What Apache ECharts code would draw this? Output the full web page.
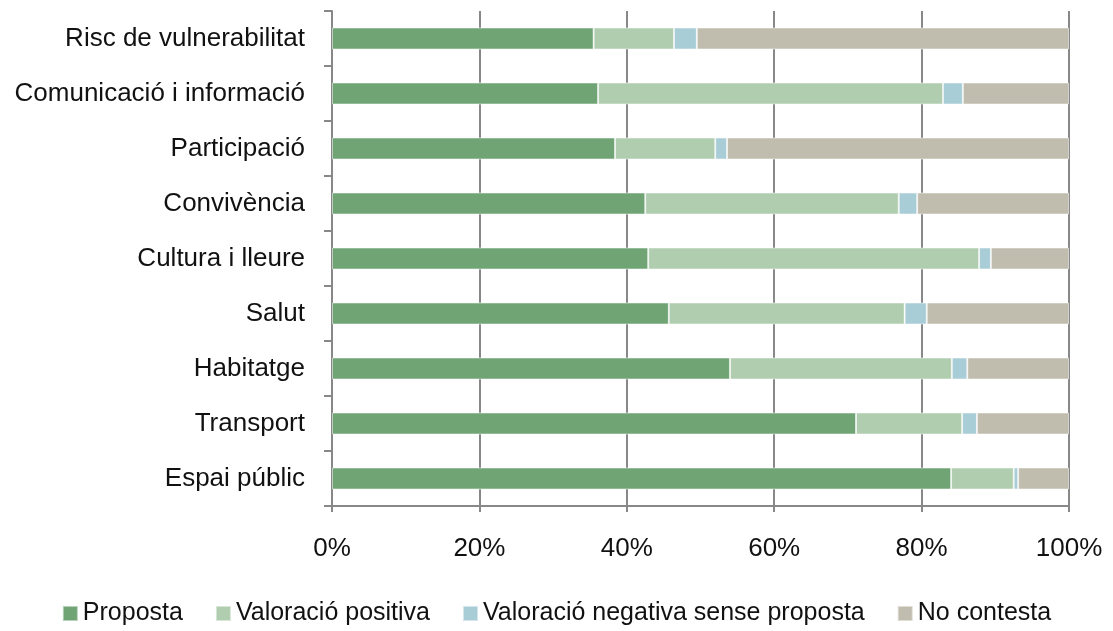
<!DOCTYPE html>
<html><head><meta charset="utf-8">
<script src="https://cdn.jsdelivr.net/npm/echarts@6/dist/echarts.min.js"></script>
<style>html,body{margin:0;padding:0;background:#fff}#c{width:1113px;height:631px}</style>
</head><body><div id="c"></div>
<script>
const categories = ["Risc de vulnerabilitat","Comunicació i informació","Participació","Convivència","Cultura i lleure","Salut","Habitatge","Transport","Espai públic"];
const seriesNames = ["Proposta","Valoració positiva","Valoració negativa sense proposta","No contesta"];
const proposta = [35.5,36.1,38.4,42.5,42.9,45.7,54.0,71.1,84.0];
const positiva = [10.9,46.8,13.6,34.4,44.9,32.0,30.1,14.4,8.5];
const negativa = [3.1,2.7,1.6,2.5,1.6,3.0,2.1,2.0,0.6];
const noContesta = [50.5,14.4,46.4,20.6,10.6,19.3,13.8,12.5,6.9];
const colors = ["#70a475","#b0cdb0","#a8cdd6","#c0bdaf"];
const FONT = "'Liberation Sans',sans-serif";
const chart = echarts.init(document.getElementById('c'));
const data = [proposta, positiva, negativa, noContesta];
chart.setOption({
  animation:false,
  textStyle:{fontFamily:FONT},
  grid:{left:332,right:44,top:11,bottom:125,containLabel:false},
  legend:{bottom:0,left:'center',itemWidth:15,itemHeight:15,itemGap:32,icon:'rect',
    textStyle:{fontFamily:FONT,fontSize:25,color:'#111'},data:seriesNames},
  xAxis:{type:'value',min:0,max:100,interval:20,
    axisLabel:{formatter:'{value}%',fontFamily:FONT,fontSize:26,color:'#111',margin:30},
    axisLine:{show:true,lineStyle:{color:'#888',width:2}},
    axisTick:{show:true,length:6,lineStyle:{color:'#888',width:2}},
    splitLine:{show:true,lineStyle:{color:'#888',width:2}}},
  yAxis:{type:'category',data:categories,inverse:true,
    axisLabel:{fontFamily:FONT,fontSize:26,color:'#111',margin:27},
    axisLine:{show:true,lineStyle:{color:'#888',width:2}},
    axisTick:{show:true,length:8,lineStyle:{color:'#888',width:2}}},
  series: seriesNames.map((n,i)=>({name:n,type:'bar',stack:'t',barWidth:22,
    itemStyle:{color:colors[i],borderColor:'rgba(255,255,255,0.5)',borderWidth:1},data:data[i]}))
});
</script></body></html>
